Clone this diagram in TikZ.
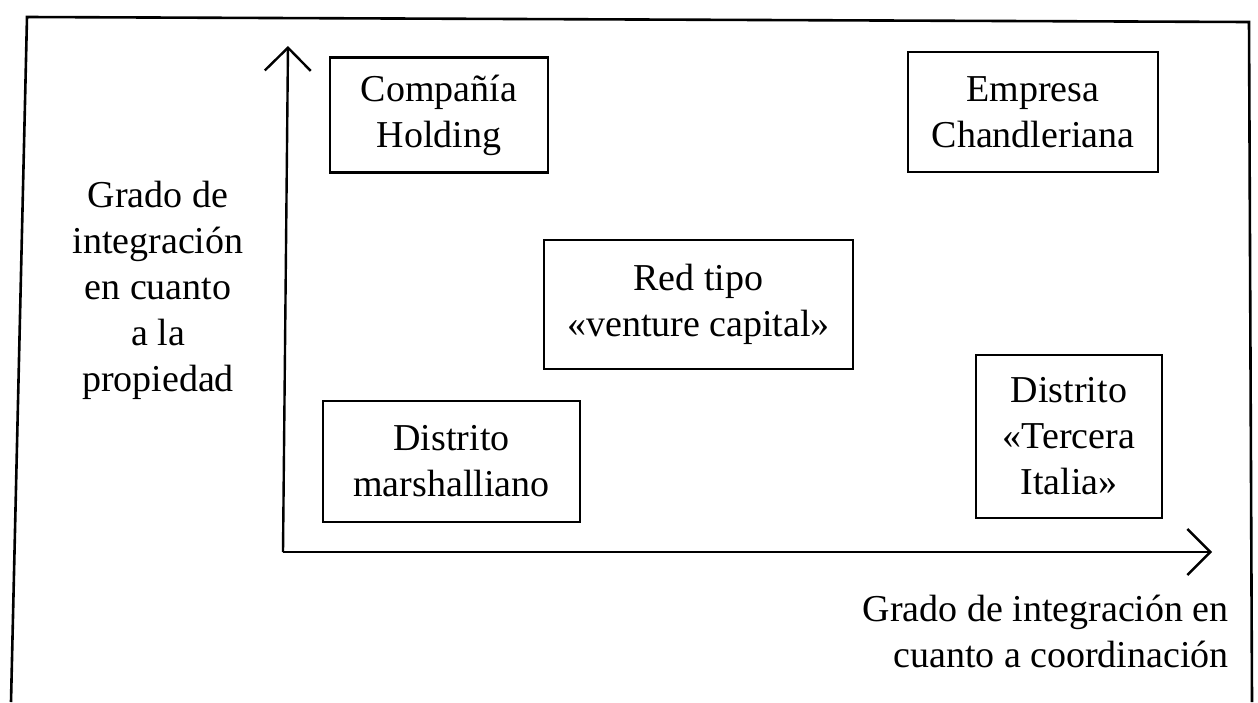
\documentclass[tikz,border=0pt]{standalone}
\usepackage{fontspec}
\setmainfont{Liberation Serif}
\usetikzlibrary{arrows.meta}
\begin{document}
\begin{tikzpicture}[x=1pt,y=-1pt,line width=2.4pt,
  every node/.style={font=\fontsize{38}{46}\selectfont, align=center, inner sep=0pt},
  boxnode/.style={draw, line width=2.2pt},
  axistip/.style={-{Straight Barb[length=23pt,width=46pt,line width=2.4pt]}}]
\useasboundingbox (0,0) rectangle (1258,702);
% frame (open at the bottom)
\coordinate (FBL) at (11,702);
\coordinate (FTL) at (27,17);
\coordinate (FTR) at (1249,22);
\coordinate (FBR) at (1252,702);
\draw[line width=2.6pt] (FBL) -- (FTL) -- (FTR) -- (FBR);
% axes
\coordinate (O) at (283,552);
\coordinate (Ytop) at (288,46);
\coordinate (Xend) at (1212,552);
\draw[axistip] (O) -- (Ytop);
\draw[axistip] (O) -- (Xend);
% boxes
\node[boxnode, minimum width=218pt, minimum height=115pt] (holding) at (439,115) {Compañía\\Holding};
\node[boxnode, minimum width=250pt, minimum height=120pt] (chandler) at (1033,112) {Empresa\\Chandleriana};
\node[boxnode, minimum width=309pt, minimum height=129pt] (venture) at (698.5,304.5) {Red tipo\\«venture capital»};
\node[boxnode, minimum width=257pt, minimum height=121pt] (marshall) at (451.5,461.5) {Distrito\\marshalliano};
\node[boxnode, minimum width=186pt, minimum height=163pt] (tercera) at (1069,436.5) {Distrito\\«Tercera\\Italia»};
% axis labels
\node (ylabel) at (158,290) {Grado de\\integración\\en cuanto\\a la\\propiedad};
\node[anchor=east, align=right] (xlabel) at (1230,631) {Grado de integración en\\cuanto a coordinación};
\end{tikzpicture}
\end{document}
